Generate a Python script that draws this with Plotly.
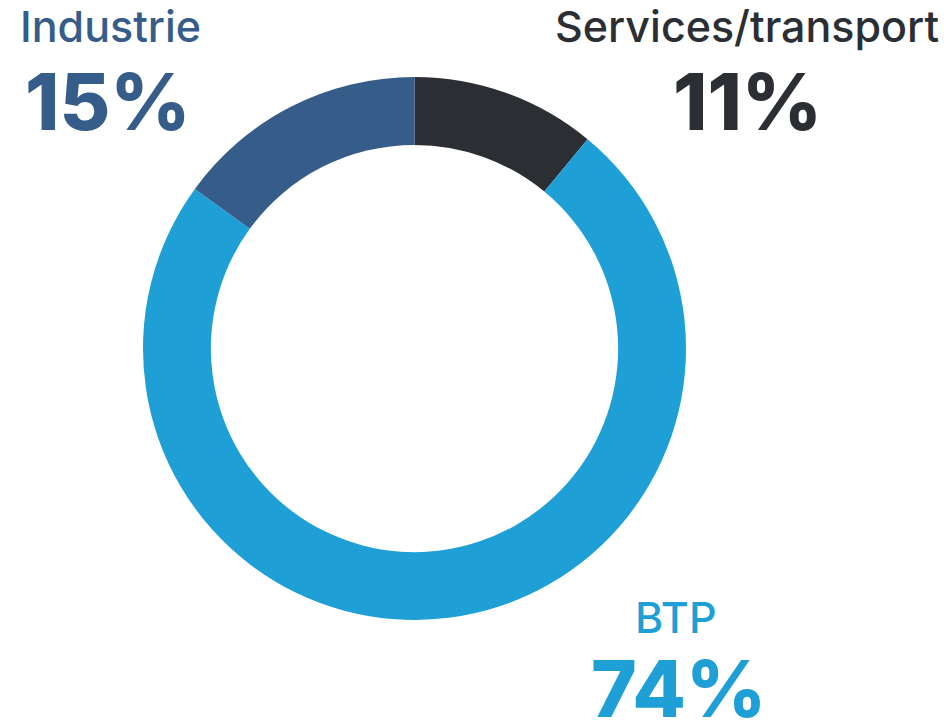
import plotly.graph_objects as go

labels = ["Services/transport", "BTP", "Industrie"]
values = [11, 74, 15]
colors = ["#2b2f33", "#1e9fd6", "#365d89"]
pct_text = ["11%", "74%", "15%"]

W, H = 944, 722
FONT = "Inter, Open Sans, sans-serif"

fig = go.Figure(go.Pie(
    labels=labels, values=values, sort=False, direction="clockwise", rotation=0,
    hole=0.75, marker=dict(colors=colors, line=dict(width=0)),
    textinfo="none", hoverinfo="label+percent", showlegend=False,
    domain=dict(x=[(414.5 - 271.5) / W, (414.5 + 271.5) / W],
                y=[1 - 620 / H, 1 - 77 / H]),
))

# label positions (pixel centers)
pos = {
    "Services/transport": ((747, 26), (747, 101)),
    "BTP": ((675, 617), (678, 688)),
    "Industrie": ((110, 26), (108, 101)),
}
for lab, col, pt in zip(labels, colors, pct_text):
    (lx, ly), (px, py) = pos[lab]
    fig.add_annotation(x=lx / W, y=1 - ly / H, xref="paper", yref="paper",
                       text=lab, showarrow=False, xanchor="center", yanchor="middle",
                       font=dict(family=FONT, size=43, color=col, weight=500))
    fig.add_annotation(x=px / W, y=1 - py / H, xref="paper", yref="paper",
                       text=pt, showarrow=False, xanchor="center", yanchor="middle",
                       font=dict(family=FONT, size=78, color=col, weight=800))

fig.update_layout(width=W, height=H, margin=dict(l=0, r=0, t=0, b=0),
                  paper_bgcolor="white", plot_bgcolor="white")
fig.write_html("out.html", config={"displayModeBar": False},
               post_script="document.body.style.margin='0';document.body.style.padding='0';")
